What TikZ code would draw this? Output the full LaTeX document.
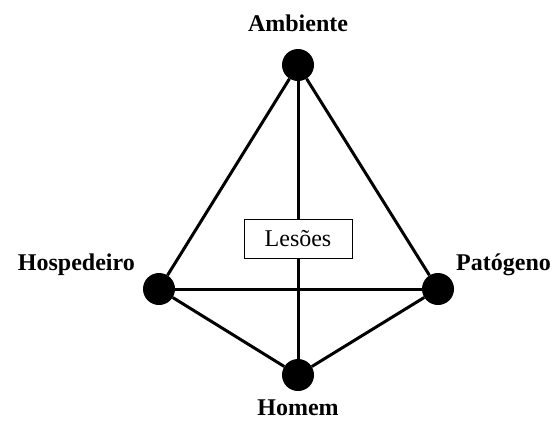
\documentclass[tikz,border=0pt]{standalone}
\usepackage{fontspec}
\setmainfont{Liberation Serif}
\usetikzlibrary{positioning}

\begin{document}
\begin{tikzpicture}[
  x=1pt, y=-1pt,
  dot/.style={circle, fill=black, minimum size=32pt, inner sep=0pt},
  lbl/.style={font=\fontsize{24}{28}\selectfont\bfseries, inner sep=0pt},
  tie/.style={line width=3pt, black},
  lesbox/.style={draw, line width=0.9pt, fill=white, minimum width=108pt, minimum height=39pt, inner sep=0pt, font=\fontsize{24}{28}\selectfont}
]
\useasboundingbox (0,0) rectangle (553,421);
% vertices
\node[dot] (amb) at (298,65) {};
\node[dot] (hos) at (159,289) {};
\node[dot] (pat) at (438,289) {};
\node[dot] (hom) at (298,375) {};
% names
\node[lbl,anchor=base] (ambl) at (298,31) {Ambiente};
\node[lbl,anchor=base east] (hosl) at (135,270) {Hospedeiro};
\node[lbl,anchor=base west] (patl) at (456,270) {Patógeno};
\node[lbl,anchor=base] (homl) at (298,415) {Homem};
% edges
\draw[tie] (amb) -- (hos);
\draw[tie] (amb) -- (pat);
\draw[tie] (amb) -- (hom);
\draw[tie] (hos) -- (pat);
\draw[tie] (hos) -- (hom);
\draw[tie] (pat) -- (hom);
\node[lesbox] (les) at (298,238.5) {Lesões};
\end{tikzpicture}
\end{document}
